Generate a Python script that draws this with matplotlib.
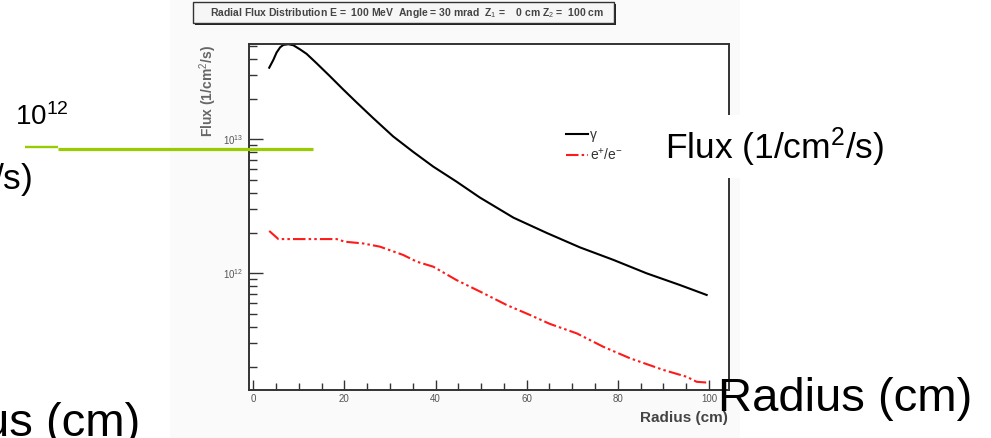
import numpy as np
import matplotlib
matplotlib.use('Agg')
from matplotlib import pyplot as plt
from matplotlib.patches import Rectangle
from matplotlib.lines import Line2D
from matplotlib.ticker import MultipleLocator, LogLocator, NullFormatter

plt.rcParams['font.family'] = ['Liberation Sans', 'DejaVu Sans']
plt.rcParams['mathtext.fontset'] = 'custom'
plt.rcParams['mathtext.rm'] = 'Liberation Sans'
plt.rcParams['mathtext.it'] = 'Liberation Sans:italic'
plt.rcParams['mathtext.bf'] = 'Liberation Sans:bold'

# photon flux vs radius
gamma_r = [3.5, 4.4, 5.1, 5.9, 6.6, 7.7, 8.8, 10.2, 11.7, 13.9, 16.8, 19.7,
           22.7, 26.3, 30.7, 35.1, 39.5, 44.6, 49.7, 57.1, 64.4, 71.7, 79.0,
           86.3, 93.6, 99.5]
gamma_flux = [3.42e13, 3.91e13, 4.43e13, 4.86e13, 5.06e13, 5.12e13, 5.03e13,
              4.70e13, 4.34e13, 3.69e13, 2.96e13, 2.36e13, 1.88e13, 1.44e13,
              1.05e13, 8.05e12, 6.25e12, 4.83e12, 3.68e12, 2.60e12, 2.00e12,
              1.56e12, 1.26e12, 1.00e12, 8.18e11, 6.89e11]

# e+/e- flux vs radius
ee_r = [3.5, 5.5, 18.3, 20.1, 24.1, 27.8, 32.9, 35.9, 39.5, 44.6, 50.5,
        55.6, 60.7, 65.1, 71.0, 76.8, 82.7, 90.0, 95.1, 97.3, 99.5]
ee_flux = [2.07e12, 1.80e12, 1.80e12, 1.72e12, 1.67e12, 1.58e12, 1.37e12,
           1.22e12, 1.12e12, 8.9e11, 7.1e11, 5.8e11, 4.89e11, 4.19e11,
           3.56e11, 2.83e11, 2.32e11, 1.90e11, 1.69e11, 1.55e11, 1.53e11]

x_ticks = [0, 20, 40, 60, 80, 100]

title = ('Radial Flux Distribution E =  100 MeV  Angle = 30 mrad  '
         'Z$_1$ =    0 cm Z$_2$ =  100 cm')
flux_label = 'Flux (1/cm$^2$/s)'
radius_label = 'Radius (cm)'

W, H = 991, 438
fig = plt.figure(figsize=(W / 100, H / 100), dpi=100)
fig.patch.set_facecolor('white')


def fx(px):
    return px / W


def fy(py):
    return 1 - py / H


# ROOT canvas backdrop
fig.patches.append(Rectangle((fx(170), 0), fx(740) - fx(170), 1,
                             transform=fig.transFigure, facecolor='#fafafa',
                             edgecolor='none', zorder=-10))

# title pave with shadow
fig.patches.append(Rectangle((fx(195), fy(25)), fx(616) - fx(195), fy(4) - fy(25),
                             transform=fig.transFigure, facecolor='#222',
                             edgecolor='none', zorder=1))
fig.patches.append(Rectangle((fx(193), fy(23)), fx(614) - fx(193), fy(2) - fy(23),
                             transform=fig.transFigure, facecolor='#f6f6f6',
                             edgecolor='#333', linewidth=1.0, zorder=2))
fig.text(fx(407), fy(13), title, ha='center', va='center', fontsize=7.5,
         fontweight='bold', color='#444', zorder=3)

ax = fig.add_axes([fx(249), fy(390), fx(729) - fx(249), fy(44) - fy(390)])
ax.set_facecolor('white')

ax.semilogy(gamma_r, gamma_flux, color='black', lw=1.5, label='\u03b3')
ax.semilogy(ee_r, ee_flux, color='#ff1a1a', lw=1.5,
            linestyle=(0, (6, 1.5, 1.2, 1.5, 1.2, 1.5)),
            label='e$^{+}$/e$^{-}$')

ax.set_xlim(-0.94, 104.4)
ax.set_ylim(1.346e11, 5.14e13)

ax.xaxis.set_minor_locator(MultipleLocator(5))
ax.set_xticks(x_ticks)
ax.yaxis.set_major_locator(LogLocator(base=10))
ax.yaxis.set_minor_locator(LogLocator(base=10, subs=np.arange(2, 10)))
ax.yaxis.set_minor_formatter(NullFormatter())

for s in ax.spines.values():
    s.set_color('#333')
    s.set_linewidth(1.4)

ax.tick_params(which='both', direction='in', top=False, right=False,
               color='#333', width=1.0)
ax.tick_params(axis='x', which='major', length=7.5, pad=3, labelsize=7,
               labelcolor='#555')
ax.tick_params(axis='x', which='minor', length=4.8)
ax.tick_params(axis='y', which='major', length=10, pad=4, labelsize=7,
               labelcolor='#555')
ax.tick_params(axis='y', which='minor', length=6)

fig.text(fx(208), fy(91), flux_label, rotation=90, ha='center', va='center',
         fontsize=10, fontweight='bold', color='#666')
fig.text(fx(728), fy(418), radius_label, ha='right', va='center',
         fontsize=11, fontweight='bold', color='#444')

ax.legend(loc='upper left', bbox_to_anchor=(fx(566), fy(128)),
          bbox_transform=fig.transFigure, frameon=False, fontsize=10,
          handlelength=1.6, handletextpad=0.15, labelspacing=0.35,
          borderpad=0, borderaxespad=0, labelcolor='#333')

# slide overlay: white box with the large flux label
fig.patches.append(Rectangle((fx(648), fy(178)), fx(910) - fx(648), fy(115) - fy(178),
                             transform=fig.transFigure, facecolor='white',
                             edgecolor='none', zorder=5))
fig.text(fx(665), fy(159), flux_label, ha='left', va='baseline', fontsize=25.5,
         color='black', zorder=6)
fig.text(fx(32), fy(190), flux_label, ha='right', va='baseline', fontsize=25.5,
         color='black', zorder=6)
fig.text(fx(15), fy(125), '10$^{12}$', ha='left', va='baseline', fontsize=20,
         color='black', zorder=6)
fig.text(fx(718), fy(411), radius_label, ha='left', va='baseline', fontsize=34,
         color='black', zorder=6)
fig.text(fx(140), fy(436), radius_label, ha='right', va='baseline', fontsize=34,
         color='black', zorder=6)

# green underline bars
fig.add_artist(Line2D([fx(25), fx(58)], [fy(146.5), fy(146.5)],
                      color='#99cc00', lw=1.7, solid_capstyle='butt', zorder=7))
fig.add_artist(Line2D([fx(58), fx(313)], [fy(149.2), fy(149.2)],
                      color='#99cc00', lw=2.3, solid_capstyle='butt', zorder=7))

fig.savefig('out.png', dpi=100)
plt.close(fig)
